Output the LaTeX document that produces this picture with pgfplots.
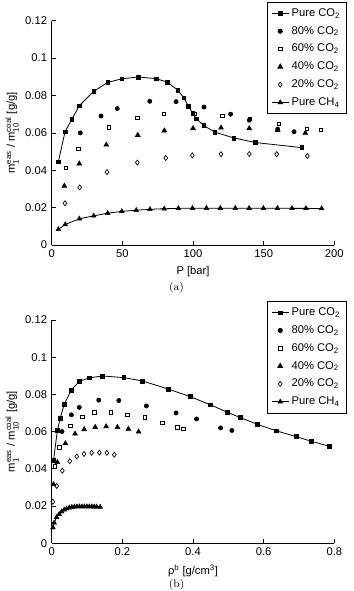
\documentclass[border=0pt]{standalone}
\usepackage{pgfplots}
\pgfplotsset{compat=1.18}
\usepackage{amsmath}
\usepackage{fontspec}
\setsansfont{Liberation Sans}
\newcommand{\chfont}{\sffamily\fontsize{8.4}{9.8}\selectfont}
\pgfplotsset{
  mystyle/.style={
    scale only axis, width=211.95pt,
    axis lines*=left, tick align=inside, major tick length=3pt,
    axis line style={line width=0.6pt},
    every tick/.style={line width=0.5pt, black},
    ymin=0, ymax=0.12,
    ytick={0,0.02,0.04,0.06,0.08,0.1,0.12},
    yticklabels={0,0.02,0.04,0.06,0.08,0.1,0.12},
    /pgf/number format/assume math mode=true,
    tick label style={font=\chfont},
    label style={font=\chfont},
    ylabel={m$^{\text{eas}}_{\text{1}}$ / m$^{\text{coal}}_{\text{10}}$ [g/g]},
    ylabel style={yshift=-2pt},
    legend style={at={(1.045,1.085)}, anchor=north east, draw=black, line width=0.6pt,
      font=\chfont, row sep=2pt, inner sep=2.8pt, fill=white},
    legend cell align=left,
    legend image code/.code={\draw[mark repeat=2,mark phase=2] plot coordinates {(0cm,0cm) (0.22cm,0cm) (0.44cm,0cm)};},
  },
  co2/.style={black, line width=0.6pt, mark=square*, mark size=1.4pt, mark options={solid, fill=black, line width=0.4pt}},
  c80/.style={black, only marks, mark=*, mark size=1.6pt, mark options={fill=black}},
  c60/.style={black, only marks, mark=square, mark size=1.3pt, mark options={line width=0.5pt}},
  c40/.style={black, only marks, mark=triangle*, mark size=2.1pt, mark options={fill=black}},
  c20/.style={black, only marks, mark=diamond, mark size=1.9pt, mark options={line width=0.5pt}},
  ch4/.style={black, line width=0.6pt, mark=triangle*, mark size=2.1pt, mark options={solid, fill=black, line width=0.3pt}},
}
\begin{document}
\begin{tikzpicture}
\begin{axis}[mystyle, height=168.2pt, at={(38.8pt,259.5pt)}, anchor=south west,
  xmin=0, xmax=200, xtick={0,50,100,150,200},
  xlabel={P [bar]}]
\addplot[co2] coordinates {
(4.7,0.0445) (9.4,0.0606) (14.2,0.0672) (19.5,0.0745) (29.7,0.0822) (39.6,0.0870)
(49.5,0.0889) (61.1,0.0899) (73.8,0.0890) (81.6,0.0872) (89.2,0.0829) (93.4,0.0788)
(96.7,0.0744) (99.8,0.0705) (102.3,0.0676) (107.6,0.0639) (115.4,0.0604) (128.8,0.0573)
(144.3,0.0548) (176.9,0.0521)};
\addlegendentry{Pure CO\textsubscript{2}}
\addplot[c80] coordinates {
(20.2,0.0600) (34.9,0.0690) (46.4,0.0730) (69.4,0.0769) (88.0,0.0767)
(107.8,0.0738) (126.6,0.0700) (139.8,0.0668) (159.9,0.0620) (171.5,0.0606)};
\addlegendentry{80\% CO\textsubscript{2}}
\addplot[c60] coordinates {
(9.9,0.0414) (18.8,0.0515) (40.3,0.0630) (60.6,0.0679) (79.3,0.0703) (101.2,0.0703)
(120.7,0.0690) (140.3,0.0676) (160.6,0.0647) (180.5,0.0622) (190.4,0.0615)};
\addlegendentry{60\% CO\textsubscript{2}}
\addplot[c40] coordinates {
(8.9,0.0316) (19.5,0.0435) (38.6,0.0536) (60.9,0.0588) (79.7,0.0612)
(100.0,0.0624) (119.8,0.0627) (139.8,0.0624) (159.9,0.0614) (179.5,0.0599)};
\addlegendentry{40\% CO\textsubscript{2}}
\addplot[c20] coordinates {
(9.4,0.0223) (19.8,0.0308) (39.1,0.0390) (60.6,0.0441) (80.7,0.0466)
(99.5,0.0480) (119.8,0.0486) (139.8,0.0487) (159.2,0.0486) (180.9,0.0476)};
\addlegendentry{20\% CO\textsubscript{2}}
\addplot[ch4] coordinates {
(4.7,0.0084) (9.6,0.0110) (19.5,0.0140) (29.7,0.0156) (39.6,0.0170) (49.6,0.0180)
(59.8,0.0186) (69.5,0.0191) (79.6,0.0194) (89.6,0.0196) (99.6,0.0197) (109.5,0.0197)
(119.3,0.0197) (129.9,0.0197) (139.7,0.0197) (149.8,0.0197) (159.7,0.0197) (170.0,0.0196)
(179.9,0.0196) (191.0,0.0195)};
\addlegendentry{Pure CH\textsubscript{4}}
\end{axis}

\begin{axis}[mystyle, height=167.5pt, at={(38.8pt,35.8pt)}, anchor=south west,
  xmin=0, xmax=0.8, xtick={0,0.2,0.4,0.6,0.8}, xticklabels={0,0.2,0.4,0.6,0.8},
  xlabel={ρ$^{\text{b}}$ [g/cm$^{\text{3}}$]}]
\addplot[co2] coordinates {
(0.005,0.0445) (0.016,0.0606) (0.024,0.0672) (0.035,0.0745) (0.055,0.0822) (0.078,0.0870)
(0.107,0.0889) (0.144,0.0899) (0.204,0.0890) (0.257,0.0872) (0.329,0.0829) (0.392,0.0788)
(0.449,0.0744) (0.496,0.0705) (0.533,0.0676) (0.582,0.0639) (0.636,0.0604) (0.692,0.0573)
(0.735,0.0548) (0.786,0.0521)};
\addlegendentry{Pure CO\textsubscript{2}}
\addplot[c80] coordinates {
(0.029,0.0600) (0.0556,0.0690) (0.078,0.0730) (0.133,0.0769) (0.190,0.0767)
(0.268,0.0738) (0.352,0.0700) (0.410,0.0668) (0.478,0.0620) (0.510,0.0606)};
\addlegendentry{80\% CO\textsubscript{2}}
\addplot[c60] coordinates {
(0.0094,0.0414) (0.0215,0.0515) (0.053,0.0630) (0.087,0.0679) (0.121,0.0703) (0.167,0.0703)
(0.214,0.0690) (0.264,0.0676) (0.313,0.0647) (0.356,0.0622) (0.373,0.0615)};
\addlegendentry{60\% CO\textsubscript{2}}
\addplot[c40] coordinates {
(0.005,0.0316) (0.016,0.0435) (0.0385,0.0536) (0.066,0.0588) (0.092,0.0612)
(0.123,0.0624) (0.154,0.0627) (0.186,0.0624) (0.217,0.0614) (0.246,0.0599)};
\addlegendentry{40\% CO\textsubscript{2}}
\addplot[c20] coordinates {
(0.003,0.0223) (0.014,0.0308) (0.030,0.0390) (0.051,0.0441) (0.071,0.0466)
(0.0915,0.0480) (0.113,0.0486) (0.135,0.0487) (0.156,0.0486) (0.177,0.0476)};
\addlegendentry{20\% CO\textsubscript{2}}
\addplot[ch4] coordinates {
(0.0034,0.0084) (0.0069,0.0110) (0.0139,0.0140) (0.0210,0.0156) (0.0281,0.0170) (0.0352,0.0180)
(0.0424,0.0186) (0.0496,0.0191) (0.0568,0.0194) (0.0640,0.0196) (0.0712,0.0197) (0.0784,0.0197)
(0.0855,0.0197) (0.0926,0.0197) (0.0996,0.0197) (0.1066,0.0197) (0.1135,0.0197) (0.1203,0.0196)
(0.1270,0.0196) (0.1370,0.0195)};
\addlegendentry{Pure CH\textsubscript{4}}
\end{axis}

\node[font=\rmfamily\fontsize{8.2}{10}\selectfont] at (132.4pt,227.6pt) {(a)};
\node[font=\rmfamily\fontsize{8.2}{10}\selectfont] at (132.4pt,4.6pt) {(b)};
\pgfresetboundingbox
\path[use as bounding box] (0pt,0pt) rectangle (264.75pt,443.25pt);
\end{tikzpicture}
\end{document}
